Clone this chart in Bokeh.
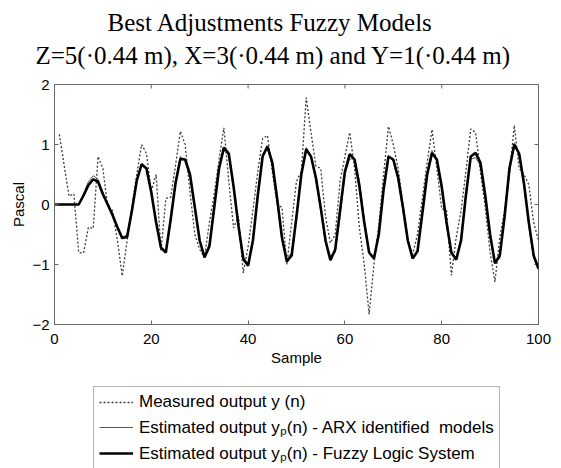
import math
from bokeh.plotting import figure
from bokeh.models import Legend, LegendItem, Range1d, FixedTicker, Title, LinearAxis
from bokeh.layouts import column
from bokeh.embed import file_html
from bokeh.resources import INLINE

# ---- data ----
n_est = list(range(0, 101))
fuzzy = [0, 0, 0, 0, 0, 0, 0.15, 0.32, 0.42, 0.38,
         0.17, 0.0, -0.18, -0.38, -0.56, -0.54, -0.1, 0.4, 0.67, 0.6,
         0.2, -0.3, -0.72, -0.8, -0.25, 0.35, 0.76, 0.75, 0.5, -0.05,
         -0.6, -0.88, -0.7, -0.05, 0.6, 0.95, 0.85, 0.3, -0.35, -0.9,
         -1.02, -0.6, 0.15, 0.8, 0.97, 0.7, 0.1, -0.55, -0.95, -0.85,
         -0.2, 0.5, 0.92, 0.8, 0.45, -0.05, -0.6, -0.93, -0.75, -0.1,
         0.55, 0.84, 0.75, 0.3, -0.3, -0.8, -0.9, -0.5, 0.25, 0.8,
         0.75, 0.45, -0.05, -0.6, -0.9, -0.78, -0.15, 0.5, 0.86, 0.75,
         0.3, -0.3, -0.8, -0.92, -0.6, 0.15, 0.8, 0.86, 0.7, 0.15,
         -0.5, -0.98, -0.85, -0.2, 0.6, 1.0, 0.85, 0.35, -0.3, -0.85,
         -1.07]
arx = [0, 0, 0, 0, 0, 0, 0.18, 0.38, 0.48, 0.42,
       0.2, 0.02, -0.15, -0.4, -0.55, -0.5, -0.08, 0.42, 0.68, 0.62,
       0.25, -0.28, -0.7, -0.78, -0.3, 0.4, 0.8, 0.72, 0.45, -0.1,
       -0.62, -0.85, -0.65, 0.0, 0.62, 0.9, 0.82, 0.28, -0.38, -0.95,
       -0.98, -0.55, 0.2, 0.85, 0.92, 0.65, 0.05, -0.6, -0.92, -0.8,
       -0.15, 0.55, 0.95, 0.78, 0.4, -0.1, -0.65, -0.85, -0.8, -0.2,
       0.5, 0.76, 0.76, 0.4, -0.25, -0.78, -0.92, -0.45, 0.3, 0.82,
       0.72, 0.4, -0.1, -0.62, -0.88, -0.8, -0.1, 0.55, 0.9, 0.72,
       0.25, -0.35, -0.82, -0.88, -0.55, 0.2, 0.76, 0.78, 0.65, 0.1,
       -0.55, -0.95, -0.9, -0.15, 0.65, 1.03, 0.82, 0.3, -0.35, -0.9,
       -1.0]
n_meas = list(range(1, 101))
measured = [1.17, 0.65, 0.14, 0.18, -0.8, -0.81, -0.38, -0.4, 0.8,
            0.6, -0.05, -0.1, -0.6, -1.19, -0.6, -0.05, 0.5, 1.0, 0.85,
            0.22, 0.5, -0.78, 0.1, 0.12, 0.65, 1.22, 1.0, 0.2, -0.5,
            -0.75, -0.88, -0.3, 0.17, 0.75, 1.28, 0.4, -0.39, -0.2, -1.14,
            -0.7, -0.1, 0.55, 1.1, 1.15, 0.55, 0.0, -0.05, -1.0, -0.3,
            0.39, 0.55, 1.78, 1.2, 0.64, 0.6, -0.2, -0.64, -0.5, 0.39,
            0.8, 1.2, 0.6, -0.39, -1.0, -1.83, -1.0, -0.35, 0.5, 1.3,
            1.0, 0.6, 0.0, -0.61, -0.83, -0.5, 0.1, 0.7, 1.25, 0.6,
            -0.07, -0.1, -1.18, -0.55, -0.1, 0.55, 1.26, 1.2, 0.55, -0.05,
            -0.8, -1.29, -0.55, -0.1, 0.5, 1.32, 0.6, 0.5, 0.33, -0.3,
            -0.6]
x_ticks = [0, 20, 40, 60, 80, 100]
y_ticks = [-2, -1, 0, 1, 2]
title_lines = ["Best Adjustments Fuzzy Models",
               "Z=5(\u00b70.44 m), X=3(\u00b70.44 m) and Y=1(\u00b70.44 m)"]
legend_labels = ["Measured output y (n)",
                 "Estimated output y\u209a(n) - ARX identified  models",
                 "Estimated output y\u209a(n) - Fuzzy Logic System"]

W = 561
H1, H2 = 384, 84                  # plot, legend strip
FL, FR = 54, 538                  # frame left / right (page px)
FT, FB = 84, 324                  # frame top / bottom (page px)

MEAS_STYLE = dict(line_color="#3a3a3a", line_width=1.3, line_dash="2 2")
ARX_STYLE = dict(line_color="#555555", line_width=1.0)
FUZ_STYLE = dict(line_color="black", line_width=2.6)

# ---------- main plot ----------
p = figure(width=W, height=H1, output_backend="svg", toolbar_location=None,
           x_range=Range1d(x_ticks[0], x_ticks[-1]), y_range=Range1d(y_ticks[0], y_ticks[-1]),
           min_border_left=FL, min_border_right=W - FR,
           min_border_top=FT, min_border_bottom=H1 - FB,
           x_axis_label="Sample", y_axis_label="Pascal")
p.background_fill_color = "white"
p.border_fill_color = "white"
p.outline_line_color = "#666666"
p.grid.visible = False

for ax, ticks in ((p.xaxis[0], x_ticks), (p.yaxis[0], y_ticks)):
    ax.ticker = FixedTicker(ticks=ticks)
    ax.axis_line_color = "#666666"
    ax.major_tick_line_color = "#666666"
    ax.major_tick_in = 4
    ax.major_tick_out = 0
    ax.minor_tick_line_color = None
    ax.major_label_text_font = "Liberation Sans"
    ax.major_label_text_font_size = "15px"
    ax.major_label_text_color = "black"
    ax.axis_label_text_font = "Liberation Sans"
    ax.axis_label_text_font_size = "15px"
    ax.axis_label_text_font_style = "normal"
    ax.axis_label_text_color = "black"
p.xaxis[0].major_label_standoff = 9
p.xaxis[0].axis_label_standoff = 2
p.yaxis[0].major_label_standoff = 5
p.yaxis[0].axis_label_standoff = 2

# empty top axis used only as a spacer between the frame and the titles
spacer = LinearAxis(ticker=FixedTicker(ticks=[]), axis_line_color=None,
                    major_tick_in=0, major_tick_out=17, major_label_standoff=0,
                    minor_tick_line_color=None)
p.add_layout(spacer, "above")
p.add_layout(Title(text=title_lines[1], align="left", offset=-19,
                   text_font="Liberation Serif", text_font_size="25px",
                   text_font_style="normal", text_color="black", standoff=32), "above")
p.add_layout(Title(text=title_lines[0], align="left", offset=53,
                   text_font="Liberation Serif", text_font_size="25px",
                   text_font_style="normal", text_color="black", standoff=-25), "above")

# inner ticks on the top and right edges of the box
p.ray(x=x_ticks, y=[y_ticks[-1]] * len(x_ticks), length=4, length_units="screen",
      angle=-math.pi / 2, line_color="#666666", line_width=1)
p.ray(x=[x_ticks[-1]] * len(y_ticks), y=y_ticks, length=4, length_units="screen",
      angle=math.pi, line_color="#666666", line_width=1)

p.line(n_meas, measured, **MEAS_STYLE)
p.line(n_est, arx, **ARX_STYLE)
p.line(n_est, fuzzy, **FUZ_STYLE)

# ---------- legend strip ----------
p2 = figure(width=W, height=H2, output_backend="svg", toolbar_location=None,
            x_axis_type=None, y_axis_type=None, min_border=0,
            x_range=Range1d(0, 1), y_range=Range1d(50, 51))   # series lie outside: only legend shows
p2.outline_line_color = None
p2.grid.visible = False
p2.background_fill_color = "white"
p2.border_fill_color = "white"
r_meas = p2.line(n_meas, measured, **MEAS_STYLE)
r_arx = p2.line(n_est, arx, **ARX_STYLE)
r_fuz = p2.line(n_est, fuzzy, **FUZ_STYLE)

leg = Legend(items=[LegendItem(label=legend_labels[0], renderers=[r_meas]),
                    LegendItem(label=legend_labels[1], renderers=[r_arx]),
                    LegendItem(label=legend_labels[2], renderers=[r_fuz])],
             location=(93 - FL, -2),
             label_text_font="Liberation Sans", label_text_font_size="17px",
             label_text_color="black",
             glyph_width=34, glyph_height=20, label_height=20, label_standoff=6,
             spacing=3, padding=5, margin=0,
             border_line_color="#666666", border_line_width=1,
             background_fill_color="white", background_fill_alpha=1.0)
p2.add_layout(leg, "center")

layout = column(p, p2, spacing=0)
open("out.html", "w").write(file_html(layout, INLINE))
